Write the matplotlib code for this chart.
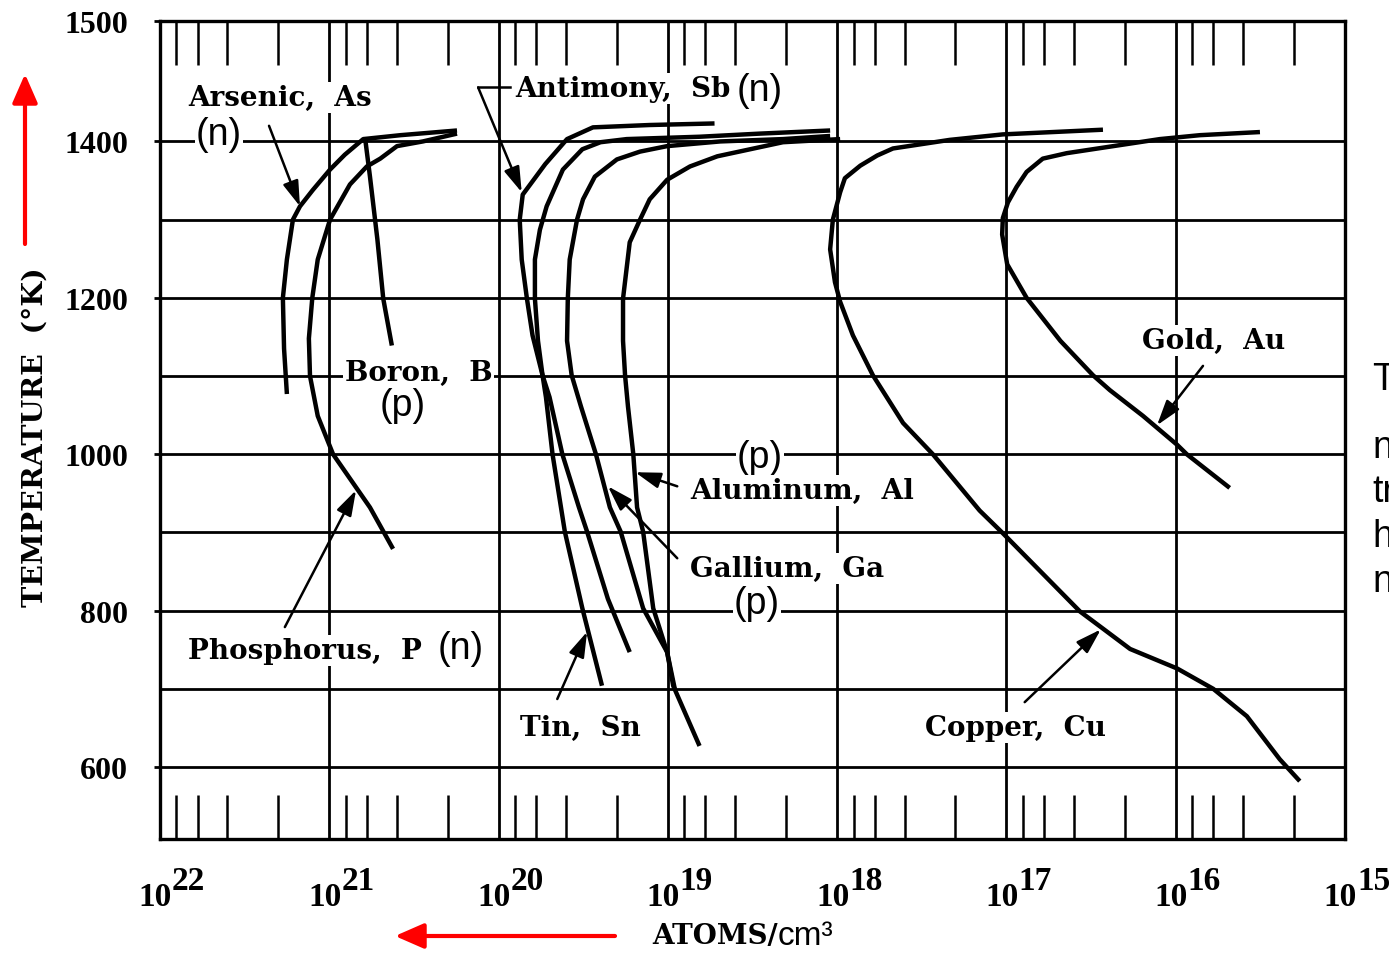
import matplotlib
matplotlib.use("Agg")
import matplotlib.pyplot as plt
import matplotlib.transforms as mtransforms
from matplotlib.ticker import LogLocator, NullFormatter, FixedLocator

# ---------------- data (atoms/cm^3, temperature K) ----------------
as_conc = [1.78e21, 1.85e21, 1.88e21, 1.78e21, 1.64e21, 1.49e21, 1.25e21, 9.9e20, 8.1e20, 6.3e20, 3.8e20, 1.76e20]
as_temp = [1077, 1135, 1200, 1249, 1300, 1317, 1338, 1364, 1383, 1403, 1408, 1414]

p_conc = [4.2e20, 5.75e20, 9.5e20, 1.17e21, 1.30e21, 1.32e21, 1.26e21, 1.17e21, 9.9e20, 7.55e20, 6.0e20, 5.0e20, 3.98e20, 2.8e20, 1.76e20]
p_temp = [879, 932, 1000, 1049, 1100, 1148, 1200, 1249, 1300, 1345, 1368, 1378, 1394, 1400, 1410]

b_conc = [6.15e20, 5.75e20, 5.2e20, 4.8e20, 4.27e20]
b_temp = [1405, 1355, 1275, 1199, 1139]

sb_conc = [5.3e18, 1.28e19, 2.77e19, 3.94e19, 5.3e19, 7.2e19, 7.5e19, 7.3e19, 6.8e19, 6.3e19, 5.5e19, 5.0e19, 4.2e19, 3.35e19, 3.0e19, 2.26e19, 1.68e19]
sb_temp = [1423, 1421, 1418, 1403, 1371, 1332, 1300, 1249, 1199, 1152, 1101, 1073, 1000, 932, 901, 815, 747]

sn_conc = [1.1e18, 2.86e18, 6.5e18, 1.75e19, 2.5e19, 3.2e19, 4.17e19, 5.2e19, 5.7e19, 6.1e19, 6.1e19, 5.85e19, 5.5e19, 5.25e19, 4.8e19, 4.06e19, 3.2e19, 2.45e19]
sn_temp = [1414, 1410, 1406, 1403, 1399, 1390, 1364, 1317, 1287, 1249, 1199, 1145, 1101, 1073, 1000, 901, 803, 704]

ga_conc = [1.1e18, 2.09e18, 4.9e18, 1.01e19, 1.46e19, 2.0e19, 2.7e19, 3.17e19, 3.44e19, 3.8e19, 3.9e19, 3.94e19, 3.7e19, 3.26e19, 2.66e19, 2.2e19, 1.9e19, 1.4e19, 1.01e19, 9.3e18, 6.5e18]
ga_temp = [1407, 1403, 1400, 1394, 1387, 1377, 1355, 1326, 1300, 1249, 1199, 1145, 1101, 1061, 1000, 932, 901, 803, 747, 704, 627]

al_conc = [9.6e17, 2.09e18, 5.1e18, 7.4e18, 1.01e19, 1.28e19, 1.46e19, 1.68e19, 1.84e19, 1.84e19, 1.79e19, 1.72e19, 1.6e19, 1.52e19, 1.4e19, 1.22e19, 1.01e19, 9.1e18]
al_temp = [1403, 1399, 1381, 1368, 1351, 1326, 1300, 1271, 1199, 1145, 1101, 1061, 1000, 932, 901, 803, 747, 700]

cu_conc = [2.69e16, 1.05e17, 2.16e17, 4.68e17, 5.8e17, 7.3e17, 9.0e17, 9.6e17, 1.06e18, 1.1e18, 1.03e18, 9.6e17, 8.07e17, 6.15e17, 4.08e17, 2.72e17, 1.44e17, 1.05e17, 3.68e16, 2.69e16, 1.86e16, 9.8e15, 6.0e15, 3.8e15, 2.43e15, 1.85e15]
cu_temp = [1415, 1409, 1402, 1391, 1382, 1369, 1353, 1335, 1300, 1262, 1220, 1195, 1152, 1101, 1040, 1000, 928, 899, 799, 777, 751, 726, 700, 665, 610, 582]

au_conc = [3.18e15, 7.2e15, 1.24e16, 2.69e16, 4.4e16, 6.1e16, 7.6e16, 8.7e16, 9.8e16, 1.05e17, 1.06e17, 9.9e16, 7.6e16, 4.8e16, 3.08e16, 2.45e16, 1.56e16, 9.8e15, 8.6e15, 4.8e15]
au_temp = [1412, 1408, 1403, 1392, 1385, 1378, 1361, 1342, 1322, 1302, 1281, 1243, 1200, 1145, 1101, 1082, 1049, 1012, 1000, 957]

y_tick_values = [600, 800, 1000, 1200, 1400]
y_tick_labels = ["600", "800", "1000", "1200", "1400"]
y_top_label = "1500"
x_exponents = [22, 21, 20, 19, 18, 17, 16, 15]

# ---------------- figure ----------------
W, H = 1389, 954
fig = plt.figure(figsize=(W / 100, H / 100), dpi=100)
ax = fig.add_axes([160 / W, 1 - 840 / H, 1185 / W, 818 / H])
Y_LO, Y_HI = 508, 1554
ax.set_xscale("log")
ax.set_xlim(1e22, 1e15)
ax.set_ylim(Y_LO, Y_HI)

for s in ax.spines.values():
    s.set_linewidth(2.4)
    s.set_zorder(7)

# grid
ax.xaxis.set_major_locator(FixedLocator([10.0 ** e for e in x_exponents]))
ax.xaxis.set_major_formatter(NullFormatter())
ax.xaxis.set_minor_locator(LogLocator(base=10, subs=(2, 4, 6, 8), numticks=50))
ax.xaxis.set_minor_formatter(NullFormatter())
ax.tick_params(axis="x", which="major", length=0)
ax.tick_params(axis="x", which="minor", direction="in", top=True, bottom=True,
               length=32, width=1.8)
ax.grid(True, axis="x", which="major", color="black", lw=2.0, zorder=1)

ax.set_yticks(y_tick_values + [Y_HI])
ax.set_yticklabels(y_tick_labels + [y_top_label])
ax.yaxis.set_minor_locator(FixedLocator([700, 900, 1100, 1300]))
ax.tick_params(axis="y", which="major", direction="out", length=4, width=2, pad=19)
ax.tick_params(axis="y", which="minor", length=0)
ax.grid(True, axis="y", which="both", color="black", lw=2.0, zorder=1)
for lab in ax.get_yticklabels():
    lab.set_fontfamily("Liberation Serif")
    lab.set_fontweight("bold")
    lab.set_fontsize(23)

# custom x tick labels 10^n (exponent nearly full size)
base_tr = mtransforms.blended_transform_factory(ax.transData, ax.transAxes)
for e in x_exponents:
    t1 = mtransforms.offset_copy(base_tr, fig=fig, x=12, y=-66, units="dots")
    t2 = mtransforms.offset_copy(base_tr, fig=fig, x=12, y=-50, units="dots")
    ax.text(10.0 ** e, 0, "10", transform=t1, ha="right", va="baseline",
            fontfamily="Liberation Serif", fontweight="bold", fontsize=24, clip_on=False)
    ax.text(10.0 ** e, 0, str(e), transform=t2, ha="left", va="baseline",
            fontfamily="Liberation Serif", fontweight="bold", fontsize=24, clip_on=False)

# curves
curve_kw = dict(color="black", lw=3.2, solid_capstyle="butt", solid_joinstyle="round", zorder=4)
for c, t in [(as_conc, as_temp), (p_conc, p_temp), (b_conc, b_temp), (sb_conc, sb_temp),
             (sn_conc, sn_temp), (ga_conc, ga_temp), (al_conc, al_temp),
             (cu_conc, cu_temp), (au_conc, au_temp)]:
    ax.plot(c, t, **curve_kw)

# labels
lab_kw = dict(fontfamily="DejaVu Serif", fontweight="bold", fontsize=20, ha="left", va="center",
              zorder=6, bbox=dict(facecolor="white", edgecolor="none", pad=1.5))
sans_kw = dict(fontfamily="Liberation Sans", fontsize=27, ha="center", va="center",
               zorder=6, bbox=dict(facecolor="white", edgecolor="none", pad=0.5))

ax.text(6.8e21, 1456, "Arsenic,  As", **lab_kw)
ax.text(4.5e21, 1409, "(n)", **sans_kw)
ax.text(8.0e19, 1468, "Antimony,  Sb", **lab_kw)
ax.text(2.86e18, 1466, "(n)", **sans_kw)
ax.text(8.1e20, 1104, "Boron,  B", **lab_kw)
ax.text(3.67e20, 1063, "(p)", **sans_kw)
ax.text(2.86e18, 997, "(p)", **sans_kw)
ax.text(7.4e18, 954, "Aluminum,  Al", **lab_kw)
ax.text(7.4e18, 854, "Gallium,  Ga", **lab_kw)
ax.text(2.98e18, 810, "(p)", **sans_kw)
ax.text(6.8e21, 749, "Phosphorus,  P", **lab_kw)
ax.text(1.67e20, 752, "(n)", **sans_kw)
ax.text(7.5e19, 651, "Tin,  Sn", **lab_kw)
ax.text(3.03e17, 651, "Copper,  Cu", **lab_kw)
ax.text(1.58e16, 1146, "Gold,  Au", **lab_kw)

# pointer arrows
arr = dict(arrowstyle="-|>,head_length=0.7,head_width=0.22", color="black", lw=1.8,
           shrinkA=0, shrinkB=0, mutation_scale=22)
def pointer(tail, head):
    ax.annotate("", xy=head, xytext=tail, arrowprops=arr, zorder=5)

pointer((2.27e21, 1420), (1.49e21, 1317))      # As
pointer((1.83e21, 779), (6.95e20, 954))        # P
ax.plot([8.6e19, 1.32e20], [1469, 1469], color="black", lw=1.8, zorder=5)
pointer((1.32e20, 1469), (7.3e19, 1335))       # Sb
pointer((4.5e19, 687), (3.0e19, 773))          # Sn
pointer((8.8e18, 867), (2.26e19, 959))         # Ga
pointer((8.8e18, 959), (1.56e19, 977))         # Al
pointer((7.8e16, 683), (2.77e16, 776))         # Cu
pointer((6.9e15, 1113), (1.29e16, 1037))       # Au

# axis titles
fig.text(35 / W, 1 - 437 / H, "TEMPERATURE  (°K)", rotation=90, ha="center", va="center",
         fontfamily="DejaVu Serif", fontweight="bold", fontsize=20.5)
fig.text(778 / W, 1 - 937 / H, "ATOMS/", ha="right", va="center",
         fontfamily="DejaVu Serif", fontweight="bold", fontsize=20)
fig.text(778 / W, 1 - 937 / H, "cm³", ha="left", va="center",
         fontfamily="Liberation Sans", fontsize=24)

# red arrows
red = dict(arrowstyle="-|>,head_length=0.8,head_width=0.35", color="red", lw=3,
           shrinkA=0, shrinkB=0, mutation_scale=22)
fig.add_artist(matplotlib.patches.FancyArrowPatch((25 / W, 1 - 245 / H), (25 / W, 1 - 75 / H),
               transform=fig.transFigure, **red))
fig.add_artist(matplotlib.patches.FancyArrowPatch((615 / W, 1 - 937 / H), (395 / W, 1 - 937 / H),
               transform=fig.transFigure, **red))

# slide text that the reference shows cut off at the right edge
for s, yb in [("T", 390), ("n", 458), ("tr", 502), ("h", 547), ("n", 592)]:
    fig.text(1372 / W, 1 - yb / H, s, ha="left", va="baseline",
             fontfamily="Liberation Sans", fontsize=27)

fig.savefig("out.png", dpi=100)
